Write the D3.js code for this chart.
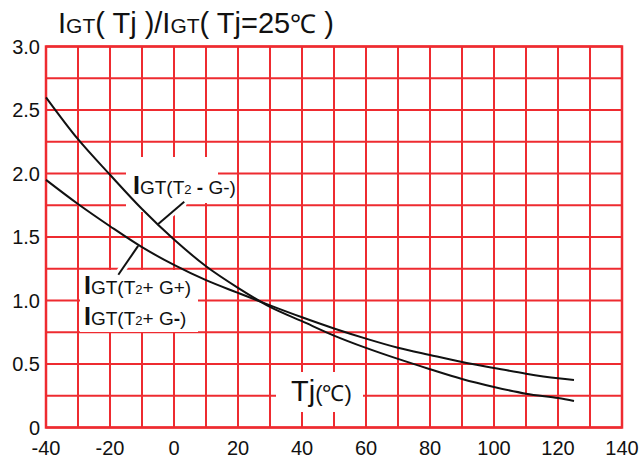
<!DOCTYPE html>
<html>
<head>
<meta charset="utf-8">
<script src="https://cdn.jsdelivr.net/npm/d3@7"></script>
<style>
  body { margin: 0; background: #fff; }
  text { font-family: "Liberation Sans", Arial, sans-serif; fill: #111; }
</style>
</head>
<body>
<svg id="chart" width="640" height="459"></svg>
<script>
//chart values
var temps = [-40, -30, -20, -10, 0, 10, 20, 30, 40, 50, 60, 70, 80, 90, 100, 110, 120, 125];
var igtMinus = [2.60, 2.27, 1.99, 1.72, 1.48, 1.27, 1.10, 0.95, 0.837, 0.724, 0.627, 0.54, 0.459, 0.382, 0.319, 0.266, 0.232, 0.208];
var igtPlus = [1.95, 1.76, 1.585, 1.42, 1.28, 1.16, 1.06, 0.962, 0.868, 0.78, 0.70, 0.628, 0.571, 0.516, 0.469, 0.424, 0.387, 0.374];
var xTicks = [-40, -20, 0, 20, 40, 60, 80, 100, 120, 140];
var yTicks = [0, 0.5, 1.0, 1.5, 2.0, 2.5, 3.0];
var yTickLabels = ["0", "0.5", "1.0", "1.5", "2.0", "2.5", "3.0"];
var gridX = [-40, -30, -20, -10, 0, 10, 20, 30, 40, 50, 60, 70, 80, 90, 100, 110, 120, 130, 140];
var gridY = [0, 0.25, 0.5, 0.75, 1.0, 1.25, 1.5, 1.75, 2.0, 2.25, 2.5, 2.75, 3.0];

var red = "#ee2b30";

var svg = d3.select("#chart");

var x = d3.scaleLinear().domain([-40, 140]).range([46, 622]);
var y = d3.scaleLinear().domain([0, 3]).range([427.5, 46.5]);

//grid
var grid = svg.append("g");
grid.selectAll(".vx").data(gridX).enter().append("line")
	.attr("x1", function(d){ return x(d); })
	.attr("x2", function(d){ return x(d); })
	.attr("y1", y(0)).attr("y2", y(3))
	.attr("stroke", red).attr("stroke-width", 2);
grid.selectAll(".hy").data(gridY).enter().append("line")
	.attr("y1", function(d){ return y(d); })
	.attr("y2", function(d){ return y(d); })
	.attr("x1", x(-40)).attr("x2", x(140))
	.attr("stroke", red).attr("stroke-width", 2);
grid.append("rect")
	.attr("x", x(-40)).attr("y", y(3))
	.attr("width", x(140) - x(-40)).attr("height", y(0) - y(3))
	.attr("fill", "none").attr("stroke", red).attr("stroke-width", 2.5);

//white boxes behind labels
var boxes = [[126, 157, 92, 46], [126, 200, 60, 12], [80, 270, 118, 62], [276, 372, 87, 40]];
svg.selectAll(".box").data(boxes).enter().append("rect")
	.attr("x", function(d){ return d[0]; })
	.attr("y", function(d){ return d[1]; })
	.attr("width", function(d){ return d[2]; })
	.attr("height", function(d){ return d[3]; })
	.attr("fill", "#fff");

//leader lines (data coords)
var leaders = [[[-5.2, 1.596], [3.2, 1.777]], [[-11.2, 1.43], [-17.4, 1.203]]];
leaders.forEach(function(l){
	svg.append("line")
		.attr("x1", x(l[0][0])).attr("y1", y(l[0][1]))
		.attr("x2", x(l[1][0])).attr("y2", y(l[1][1]))
		.attr("stroke", "#fff").attr("stroke-width", 8);
});

//curves
var line = d3.line()
	.x(function(d){ return x(d[0]); })
	.y(function(d){ return y(d[1]); })
	.curve(d3.curveCatmullRom.alpha(0.5));

[igtMinus, igtPlus].forEach(function(series){
	svg.append("path")
		.datum(temps.map(function(t, i){ return [t, series[i]]; }))
		.attr("d", line)
		.attr("fill", "none")
		.attr("stroke", "#111")
		.attr("stroke-width", 2);
});

leaders.forEach(function(l){
	svg.append("line")
		.attr("x1", x(l[0][0])).attr("y1", y(l[0][1]))
		.attr("x2", x(l[1][0])).attr("y2", y(l[1][1]))
		.attr("stroke", "#111").attr("stroke-width", 2);
});

//tick labels
svg.selectAll(".yl").data(yTicks).enter().append("text")
	.attr("x", 40)
	.attr("y", function(d){ return y(d) + 7; })
	.attr("text-anchor", "end")
	.attr("font-size", 20)
	.text(function(d, i){ return yTickLabels[i]; });

svg.selectAll(".xl").data(xTicks).enter().append("text")
	.attr("x", function(d){ return x(d); })
	.attr("y", 455)
	.attr("text-anchor", "middle")
	.attr("font-size", 20)
	.text(function(d){ return d; });

//title
function richText(px, py, parts){
	var t = svg.append("text").attr("x", px).attr("y", py);
	parts.forEach(function(p){
		var s = t.append("tspan").attr("font-size", p[1]).text(p[0]);
		if (p[2]) s.attr("font-weight", "bold");
	});
	return t;
}

richText(58, 33, [["I", 29], ["GT", 21], ["( Tj )/", 29], ["I", 29], ["GT", 21], ["( Tj=25", 29], ["\u2103", 26], [" )", 29]]);

//curve labels
richText(133, 194, [["I", 25, true], ["GT(T", 19], ["2", 13], [" - ", 19, true], ["G-)", 19]]);
richText(84, 294, [["I", 25, true], ["GT(T", 19], ["2", 13], ["+ G+)", 19]]);
richText(84, 325, [["I", 25, true], ["GT(T", 19], ["2", 13], ["+ G", 19], ["-", 19, true], [")", 19]]);

//axis title
richText(291, 401, [["Tj", 29], ["(\u2103)", 22]]);
</script>
</body>
</html>
